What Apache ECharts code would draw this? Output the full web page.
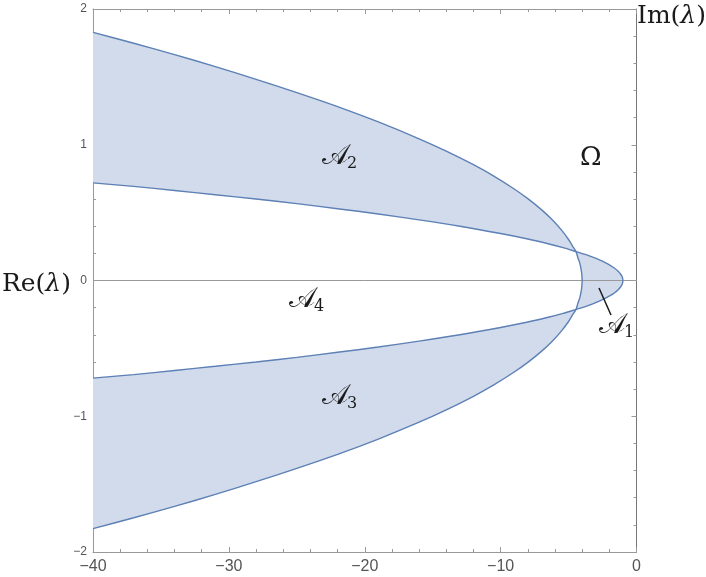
<!DOCTYPE html>
<html>
<head>
<meta charset="utf-8">
<script src="https://cdn.jsdelivr.net/npm/echarts@6/dist/echarts.min.js"></script>
<style>
  html, body { margin: 0; padding: 0; background: #fff; }
  #chart { width: 706px; height: 577px; }
</style>
</head>
<body>
<div id="chart"></div>
<script>
// axis ticks
const xTicks = [-40, -30, -20, -10, 0];
const yTicks = [-2, -1, 0, 1, 2];

// outer boundary (nose at -4)
const outerUpper = [[-40, 1.828], [-37, 1.748], [-34, 1.664], [-31, 1.576], [-28, 1.482], [-25, 1.384],
  [-22, 1.281], [-19, 1.168], [-16, 1.044], [-14, 0.953], [-12, 0.853], [-10.5, 0.769], [-9, 0.674],
  [-8, 0.603], [-7, 0.522], [-6.2, 0.447], [-5.5, 0.369], [-5, 0.302], [-4.7, 0.252], [-4.45, 0.213]];
const outerNose = [[-4.45, 0.213], [-4.32, 0.17], [-4.18, 0.13], [-4.09, 0.09], [-4.03, 0.05], [-4, 0],
  [-4.03, -0.05], [-4.09, -0.09], [-4.18, -0.13], [-4.32, -0.17], [-4.45, -0.213]];
const outerLower = [[-4.45, -0.213], [-4.7, -0.252], [-5, -0.302], [-5.5, -0.369], [-6.2, -0.447], [-7, -0.522],
  [-8, -0.603], [-9, -0.674], [-10.5, -0.769], [-12, -0.853], [-14, -0.953], [-16, -1.044], [-19, -1.168],
  [-22, -1.281], [-25, -1.384], [-28, -1.482], [-31, -1.576], [-34, -1.664], [-37, -1.748], [-40, -1.828]];

// inner boundary (nose at -1)
const innerUpper = [[-40, 0.719], [-37, 0.693], [-34, 0.663], [-31, 0.632], [-28, 0.6], [-25, 0.566],
  [-22, 0.529], [-19, 0.49], [-16, 0.447], [-13, 0.4], [-10, 0.346], [-8, 0.306], [-6.5, 0.271],
  [-5.4, 0.242], [-4.45, 0.213]];
const innerNose = [[-4.45, 0.213], [-3.71, 0.19], [-3.17, 0.17], [-2.69, 0.15], [-2.27, 0.13], [-1.91, 0.11],
  [-1.61, 0.09], [-1.37, 0.07], [-1.19, 0.05], [-1.07, 0.03], [-1.02, 0.015], [-1, 0],
  [-1.02, -0.015], [-1.07, -0.03], [-1.19, -0.05], [-1.37, -0.07], [-1.61, -0.09], [-1.91, -0.11],
  [-2.27, -0.13], [-2.69, -0.15], [-3.17, -0.17], [-3.71, -0.19], [-4.45, -0.213]];
const innerLower = [[-4.45, -0.213], [-5.4, -0.242], [-6.5, -0.271], [-8, -0.306], [-10, -0.346], [-13, -0.4],
  [-16, -0.447], [-19, -0.49], [-22, -0.529], [-25, -0.566], [-28, -0.6], [-31, -0.632], [-34, -0.663],
  [-37, -0.693], [-40, -0.719]];

const lineColor = '#5e81b5';
const fillColor = '#d1dbec';
const frameColor = '#999';

// shaded pieces: A2, A3, A1
const regions = [
  outerUpper.concat(innerUpper.slice().reverse()),
  outerLower.concat(innerLower.slice().reverse()),
  innerNose.concat(outerNose.slice().reverse())
];
const outerCurve = outerUpper.concat(outerNose.slice(1), outerLower.slice(1));
const innerCurve = innerUpper.concat(innerNose.slice(1), innerLower.slice(1));

const minus = v => String(v).replace('-', '\u2212');

function axisCommon(showLabel, fontSize, color) {
  return {
    type: 'value',
    axisLine: { show: true, onZero: false, lineStyle: { color: color || frameColor, width: 1 } },
    axisTick: { show: true, inside: true, length: 5, lineStyle: { color: frameColor } },
    minorTick: { show: true, splitNumber: 5, length: 3, lineStyle: { color: frameColor } },
    splitLine: { show: false },
    axisLabel: { show: showLabel, color: '#555', fontSize: fontSize, fontFamily: 'Liberation Sans',
      margin: 6, formatter: minus }
  };
}

const serif = '"DejaVu Serif", "Liberation Serif", serif';
const ink = '#1a1a1a';
function mathLabel(x, y, main, sub) {
  return {
    type: 'group',
    z: 100,
    children: [
      { type: 'text', x: x, y: y, z: 100,
        style: { text: main, font: '28px ' + serif, fill: ink, align: 'left', verticalAlign: 'middle',
          textAlign: 'left', textVerticalAlign: 'middle' } },
      { type: 'text', x: x + 25, y: y + 7, z: 100,
        style: { text: sub, font: '16px ' + serif, fill: ink, align: 'left', verticalAlign: 'middle',
          textAlign: 'left', textVerticalAlign: 'middle' } }
    ]
  };
}

const chart = echarts.init(document.getElementById('chart'), null, { renderer: 'canvas' });
chart.setOption({
  animation: false,
  backgroundColor: '#fff',
  grid: { left: 93, top: 9, width: 543.5, height: 543, containLabel: false },
  xAxis: [
    Object.assign(axisCommon(true, 16), { position: 'bottom', min: xTicks[0], max: xTicks[xTicks.length - 1],
      interval: xTicks[1] - xTicks[0], axisLabel: Object.assign(axisCommon(true, 16).axisLabel, { margin: 7 }) }),
    Object.assign(axisCommon(false, 16), { position: 'top', min: xTicks[0], max: xTicks[xTicks.length - 1],
      interval: xTicks[1] - xTicks[0] })
  ],
  yAxis: [
    Object.assign(axisCommon(true, 12), { position: 'left', min: yTicks[0], max: yTicks[yTicks.length - 1],
      interval: yTicks[1] - yTicks[0] }),
    Object.assign(axisCommon(false, 12, '#777'), { position: 'right', min: yTicks[0], max: yTicks[yTicks.length - 1],
      interval: yTicks[1] - yTicks[0] })
  ],
  series: [
    {
      type: 'custom',
      clip: true,
      z: 1,
      data: regions.map((r, i) => [i]),
      renderItem: function (params, api) {
        const pts = regions[params.dataIndex].map(p => api.coord(p));
        return { type: 'polygon', shape: { points: pts }, style: { fill: fillColor, stroke: fillColor, lineWidth: 0.5 } };
      },
      silent: true
    },
    {
      type: 'line', data: outerCurve, showSymbol: false, z: 3, silent: true, smooth: 0.3,
      lineStyle: { color: lineColor, width: 1.4 },
      markLine: { symbol: 'none', silent: true, label: { show: false }, z: 2,
        lineStyle: { color: frameColor, width: 1, type: 'solid' }, data: [{ yAxis: 0 }] }
    },
    {
      type: 'line', data: innerCurve, showSymbol: false, z: 3, silent: true, smooth: 0.3,
      lineStyle: { color: lineColor, width: 1.4 }
    }
  ],
  graphic: [
    mathLabel(322, 157, '\uD835\uDC9C', '2'),
    mathLabel(289, 300, '\uD835\uDC9C', '4'),
    mathLabel(322, 397, '\uD835\uDC9C', '3'),
    mathLabel(599, 326, '\uD835\uDC9C', '1'),
    { type: 'text', x: 580, y: 158, z: 100,
      style: { text: '\u03A9', font: '26px ' + serif, fill: ink, align: 'left', verticalAlign: 'middle',
        textAlign: 'left', textVerticalAlign: 'middle' } },
    { type: 'line', z: 100, shape: { x1: 599, y1: 288, x2: 611, y2: 315 }, style: { stroke: ink, lineWidth: 1.5 } },
    { type: 'text', x: 2, y: 284, z: 100,
      style: { rich: { r: { font: '25px ' + serif, fill: ink }, l: { font: 'italic 25px ' + serif, fill: ink } },
        text: '{r|Re(}{l|\u03BB}{r|)}', align: 'left', verticalAlign: 'middle', textAlign: 'left', textVerticalAlign: 'middle' } },
    { type: 'text', x: 637, y: 16, z: 100,
      style: { rich: { r: { font: '25px ' + serif, fill: ink }, l: { font: 'italic 25px ' + serif, fill: ink } },
        text: '{r|Im(}{l|\u03BB}{r|)}', align: 'left', verticalAlign: 'middle', textAlign: 'left', textVerticalAlign: 'middle' } }
  ]
});
</script>
</body>
</html>
